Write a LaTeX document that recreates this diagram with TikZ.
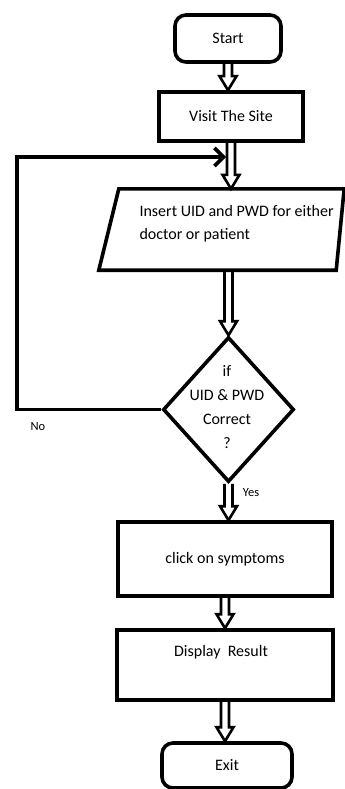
\documentclass[tikz,border=0pt]{standalone}
\usepackage{fontspec}
\setmainfont{Carlito}
\usetikzlibrary{shapes.geometric,arrows.meta,calc}
\begin{document}
\begin{tikzpicture}[x=1pt,y=-1pt,
  txt/.style={font=\fontsize{16}{19}\selectfont},
  box/.style={draw,line width=3.6pt,inner sep=0pt,txt},
  term/.style={box,rounded corners=11pt},
  fat/.style={line width=2.6pt,line join=miter,
    to path={let \p1=(\tikztostart),\p2=(\tikztotarget) in
      (\x1-4pt,\y1) -- (\x1-4pt,\y2+14pt) -- (\x1-8.5pt,\y2+14pt) -- (\x1,\y2)
      -- (\x1+8.5pt,\y2+14pt) -- (\x1+4pt,\y2+14pt) -- (\x1+4pt,\y1)}},
  loopline/.style={line width=3.6pt,-{Straight Barb[length=9pt,width=18pt]}},
  lbl/.style={font=\fontsize{12.5}{14}\selectfont}]
\useasboundingbox (0,0) rectangle (345,789);

% nodes
\node[term, minimum width=106pt, minimum height=47pt] (start) at (228,38.5) {Start};
\node[box, minimum width=144pt, minimum height=49pt] (visit) at (231,116.5) {Visit The Site};
\node[inner sep=0pt, minimum width=245pt, minimum height=81pt] (insbox) at (221.5,229.5) {};
\draw[line width=3.6pt, line join=miter] ([xshift=20pt]insbox.north west) -- (insbox.north east)
  -- ([xshift=-8pt]insbox.south east) -- (insbox.south west) -- cycle;
\node[txt, align=left, anchor=west, font=\fontsize{16}{23}\selectfont] (ins) at (136,223.5)
  {Insert UID and PWD for either\\doctor or patient};
\node[draw, diamond, line width=3.6pt, minimum width=131pt, minimum height=145pt, inner sep=0pt] (dia) at (228.5,409.5) {};
\node[align=center, font=\fontsize{16}{23.7}\selectfont] (diatext) at (227,407)
  {if\\UID \& PWD\\Correct\\?};
\node[box, minimum width=214pt, minimum height=74pt] (click) at (225,559) {click on symptoms};
\node[box, minimum width=216pt, minimum height=70pt] (disp) at (225,665) {};
\node[txt] (disptext) at (221,652) {Display~ Result};
\node[term, minimum width=130pt, minimum height=45pt] (exit) at (227,765.5) {Exit};

\node[lbl] (no) at (38,427) {No};
\node[lbl] (yes) at (251,493) {Yes};

% connectors
\draw[fat] (start.south) to (start.south |- visit.north);
\draw[fat] (visit.south) to (visit.south |- insbox.north);
\draw[fat] (dia.north |- insbox.south) to (dia.north);
\draw[fat] (dia.south) to (dia.south |- click.north);
\draw[fat] (click.south) to (click.south |- disp.north);
\draw[fat] (disp.south) to (disp.south |- exit.north);

\coordinate (lc) at (17,409.5);
\coordinate (lend) at (226,157);
\draw[loopline] (dia.west) -- (lc) |- (lend);
\end{tikzpicture}
\end{document}
